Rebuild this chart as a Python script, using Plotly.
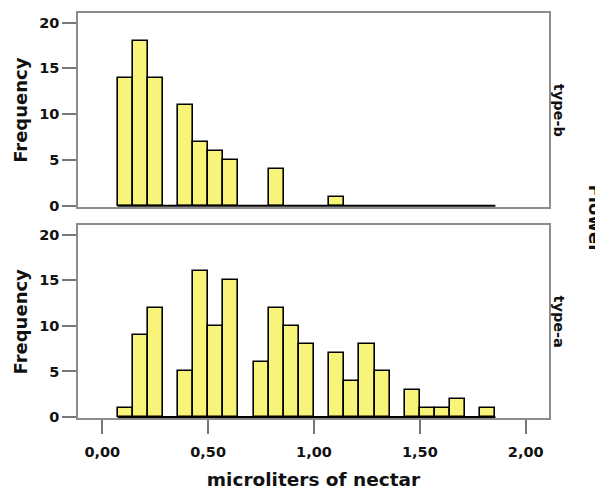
import plotly.graph_objects as go
from plotly.subplots import make_subplots

# Histogram bins (microliters of nectar)
bin_start = 0.072
bin_width = 0.0714
counts_type_b = [14, 18, 14, 0, 11, 7, 6, 5, 0, 0, 4, 0, 0, 0, 1, 0, 0, 0, 0, 0, 0, 0, 0, 0, 0]
counts_type_a = [1, 9, 12, 0, 5, 16, 10, 15, 0, 6, 12, 10, 8, 0, 7, 4, 8, 5, 0, 3, 1, 1, 2, 0, 1]
panel_labels = ["type-b", "type-a"]
x_tickvals = [0.0, 0.5, 1.0, 1.5, 2.0]
x_ticktext = ["0,00", "0,50", "1,00", "1,50", "2,00"]
y_tickvals = [0, 5, 10, 15, 20]

n_bins = len(counts_type_a)
centers = [bin_start + bin_width * (i + 0.5) for i in range(n_bins)]
edges = [bin_start, bin_start + bin_width * n_bins]

BAR_FILL = "#F8F47A"
BOX = "#8c8c8c"
FONT = "DejaVu Sans"
TXT = "#111111"

fig = make_subplots(rows=2, cols=1, shared_xaxes=False, vertical_spacing=0.0)

for row, counts in ((1, counts_type_b), (2, counts_type_a)):
    xs = [c for c, v in zip(centers, counts) if v > 0]
    ys = [v for v in counts if v > 0]
    fig.add_trace(go.Bar(x=xs, y=ys, width=bin_width,
                         marker=dict(color=BAR_FILL, line=dict(color="black", width=1.6)),
                         showlegend=False), row=row, col=1)
    fig.add_trace(go.Scatter(x=edges, y=[0, 0], mode="lines",
                             line=dict(color="black", width=2.2),
                             showlegend=False, hoverinfo="skip"), row=row, col=1)

xrange = [-0.1148, 2.1101]
yrange = [-0.1, 21.05]
TOP_DOM = [0.5217, 1]
BOT_DOM = [0, 0.4765]

tickfont = dict(family=FONT, size=14.5, weight="bold", color=TXT)

fig.update_layout(
    width=595, height=490,
    margin=dict(l=78, r=46, t=13, b=72, autoexpand=False),
    plot_bgcolor="white", paper_bgcolor="white",
    bargap=0,
    font=dict(family=FONT, color=TXT),
    xaxis=dict(domain=[0, 1], range=xrange, showgrid=False, zeroline=False,
               showticklabels=False, ticks="", showline=True, mirror=True,
               linecolor=BOX, linewidth=1.5, automargin=False),
    yaxis=dict(domain=TOP_DOM, range=yrange, showgrid=False, zeroline=False,
               tickvals=y_tickvals, ticks="outside", ticklen=14, tickwidth=1.5,
               tickcolor="#777777", showline=True, mirror=True,
               linecolor=BOX, linewidth=1.5, tickfont=tickfont, automargin=False),
    xaxis2=dict(domain=[0, 1], range=xrange, showgrid=False, zeroline=False,
                tickvals=x_tickvals, ticktext=x_ticktext, ticks="outside",
                ticklen=14, tickwidth=1.5, tickcolor="#777777",
                showline=True, mirror=True, linecolor=BOX, linewidth=1.5,
                tickfont=tickfont, automargin=False, ticklabelstandoff=6,
                title=dict(text="microliters of nectar", standoff=16,
                           font=dict(family=FONT, size=18.5, weight="bold", color=TXT))),
    yaxis2=dict(domain=BOT_DOM, range=yrange, showgrid=False, zeroline=False,
                tickvals=y_tickvals, ticks="outside", ticklen=14, tickwidth=1.5,
                tickcolor="#777777", showline=True, mirror=True,
                linecolor=BOX, linewidth=1.5, tickfont=tickfont, automargin=False),
)

centers_y = ((TOP_DOM[0] + TOP_DOM[1]) / 2, (BOT_DOM[0] + BOT_DOM[1]) / 2)

# Frequency titles
for yc in centers_y:
    fig.add_annotation(text="Frequency", xref="paper", yref="paper", x=0, y=yc,
                       xanchor="center", yanchor="middle", xshift=-57, textangle=-90,
                       showarrow=False,
                       font=dict(family=FONT, size=18, weight="bold", color=TXT))

# panel labels on right
for lab, yc in zip(panel_labels, centers_y):
    fig.add_annotation(text=lab, xref="paper", yref="paper", x=1, y=yc,
                       xanchor="center", yanchor="middle", xshift=10, textangle=90,
                       showarrow=False,
                       font=dict(family=FONT, size=14.5, weight="bold", color=TXT))

fig.add_annotation(text="Flower", xref="paper", yref="paper", x=1, y=0.5,
                   xanchor="center", yanchor="middle", xshift=46, yshift=-3, textangle=90,
                   showarrow=False,
                   font=dict(family=FONT, size=18, weight="bold", color=TXT))

fig.write_html("out.html", config={"displayModeBar": False},
               post_script="document.body.style.margin='0px';")
